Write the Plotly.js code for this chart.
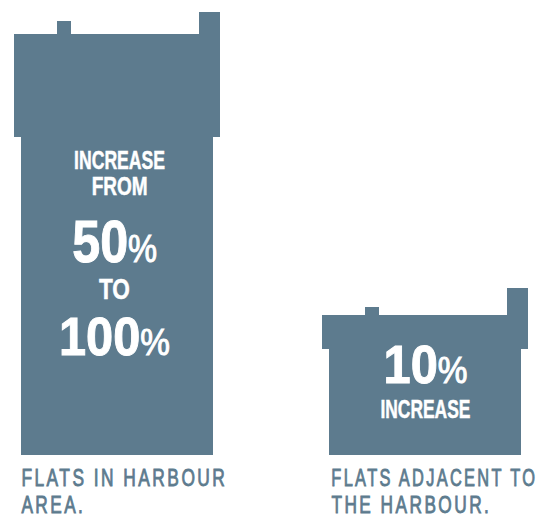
<!DOCTYPE html>
<html><head><meta charset="utf-8">
<script src="https://cdn.plot.ly/plotly-3.0.1.min.js"></script>
<style>html,body{margin:0;padding:0;background:#fff}#c{width:538px;height:515px}</style>
</head><body><div id="c"></div>
<script>
const categories = ["Flats in harbour area", "Flats adjacent to the harbour"];
const bodyHeights = [318, 106];
const roofHeights = [103, 34];
const smallChimney = [13, 8];
const largeChimney = [22, 27];
const caption1 = ["FLATS IN HARBOUR", "AREA."];
const caption2 = ["FLATS ADJACENT TO", "THE HARBOUR."];

const COLOR = "#5d7b8e";
const UNIT = 308;
const sum = (a, b) => a.map((v, i) => v + b[i]);
const roofTop = sum(bodyHeights, roofHeights);
const bar = (y, base, width, offset) => ({
  type: "bar", x: categories, y, base, width: categories.map(() => width / UNIT),
  offset: categories.map(() => offset / UNIT),
  marker: {color: COLOR, line: {width: 0}}, hoverinfo: "skip", showlegend: false
});
const traces = [
  bar(bodyHeights, categories.map(() => 0), 192, -96),
  bar(roofHeights, bodyHeights, 206, -103),
  bar(smallChimney, roofTop, 14, -60),
  bar(largeChimney, roofTop, 21, 82)
];
const FONT = "Liberation Sans, sans-serif";
const fits = [];
const px = (x, y) => [x / 538, 1 - y / 515];
const txt = (text, x, y, size, color, anchor, weight, w, stroke) => {
  const p = px(x, y);
  fits.push({w, anchor, x, stroke, color});
  return {text, x: p[0], y: p[1], xref: "paper", yref: "paper", xanchor: anchor, yanchor: "middle",
    showarrow: false, align: anchor, font: {family: FONT, size, color, weight}};
};
const white = (t, x, y, s, w, st) => txt(t, x, y, s, "#ffffff", "center", 700, w, st);
const cap = (t, x, y, w) => txt(t, x, y, 24.5, COLOR, "left", 400, w, 0.9);
const pct = (n, s) => n + '<span style="font-size:' + s + 'px;font-weight:400">%</span>';
const annotations = [
  white("INCREASE", 119.5, 160, 25, 91, 0.5),
  white("FROM", 119.5, 186, 25, 56, 0.5),
  white(pct("50", 39), 114.5, 241, 60, 85, 1),
  white("TO", 114, 288.5, 30, 31, 0.5),
  white(pct("100", 37), 114.5, 336, 54, 111, 1),
  white(pct("10", 37), 425.5, 364, 54, 84, 1),
  white("INCREASE", 425, 409, 25, 90, 0.5),
  cap(caption1[0], 20, 477, 206), cap(caption1[1], 20, 504.5, 64),
  cap(caption2[0], 330, 477, 206), cap(caption2[1], 330, 504.5, 160)
];
const layout = {
  width: 538, height: 515, margin: {l: 0, r: 0, t: 0, b: 0},
  paper_bgcolor: "#fff", plot_bgcolor: "#fff", barmode: "overlay", showlegend: false,
  xaxis: {type: "category", range: [-117 / UNIT, 421 / UNIT], visible: false, fixedrange: true},
  yaxis: {range: [-60, 455], visible: false, fixedrange: true},
  annotations
};
Plotly.newPlot("c", traces, layout, {displayModeBar: false, staticPlot: true}).then((gd) => {
  // No condensed face is installed: narrow the real text horizontally to the reference's widths.
  gd.querySelectorAll("g.annotation").forEach((g) => {
    const f = fits[+g.getAttribute("data-index")];
    const t = g.querySelector("text");
    if (f.anchor === "left") t.style.letterSpacing = "3.5px";
    t.style.stroke = f.color;
    t.style.strokeWidth = f.stroke + "px";
    const s = f.w / t.getBBox().width;
    g.setAttribute("transform", `translate(${f.x} 0) scale(${s} 1) translate(${-f.x} 0)`);
  });
});
</script></body></html>
